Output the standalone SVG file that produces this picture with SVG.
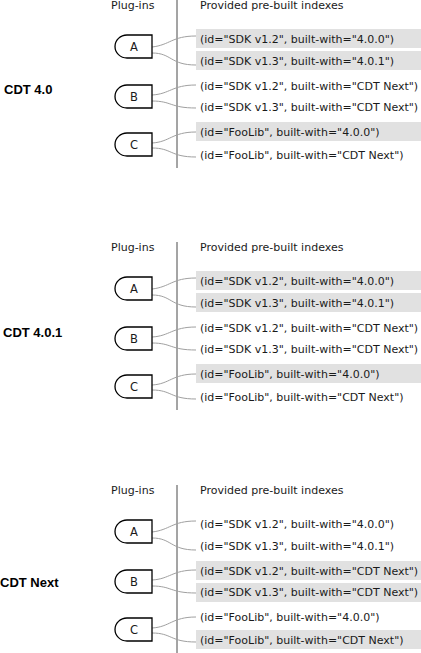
<svg xmlns="http://www.w3.org/2000/svg" xmlns:xlink="http://www.w3.org/1999/xlink" width="421" height="653" viewBox="0 0 421 653">
<style>
  .bg { fill: #ffffff; }
  .hdr { font-family: "DejaVu Sans", Verdana, sans-serif; font-size: 11px; fill: #1a1a1a; }
  .row { font-family: "DejaVu Sans", Verdana, sans-serif; font-size: 11px; fill: #1a1a1a; }
  .lbl { font-family: "Liberation Sans", Arial, sans-serif; font-size: 13px; font-weight: bold; fill: #000000; }
  .nodetxt { font-family: "DejaVu Sans", Verdana, sans-serif; font-size: 11.5px; fill: #1a1a1a; text-anchor: middle; }
  .hl { fill: #e1e1e1; }
  .divider { stroke: #4a4a4a; stroke-width: 1; fill: none; }
  .plug { fill: #ffffff; stroke: #000000; stroke-width: 1.3; }
  .conn { fill: none; stroke: #a0a0a0; stroke-width: 1; }
</style>
<defs>
  <path id="plugshape" d="M152,0 H127 A12,11.5 0 0 0 127,23 H152 Z"/>
  <g id="section">
    <text class="hdr" x="111" y="9">Plug-ins</text>
    <text class="hdr" x="200" y="9">Provided pre-built indexes</text>
    <line class="divider" x1="177" y1="0" x2="177" y2="168"/>
  </g>
</defs>
<rect class="bg" x="0" y="0" width="421" height="653"/>

<!-- ===== Section 1: CDT 4.0 ===== -->
<g id="section-cdt-4.0">
  <use xlink:href="#section" href="#section"/>
  <text class="lbl" x="4" y="94">CDT 4.0</text>
  <g id="s1-highlights">
    <rect class="hl" x="196" y="29" width="225" height="19"/>
    <rect class="hl" x="196" y="51" width="225" height="19"/>
    <rect class="hl" x="196" y="122" width="225" height="19"/>
  </g>
  <g id="s1-indexes">
    <text class="row" x="200" y="43">(id="SDK v1.2", built-with="4.0.0")</text>
    <text class="row" x="200" y="65">(id="SDK v1.3", built-with="4.0.1")</text>
    <text class="row" x="200" y="90">(id="SDK v1.2", built-with="CDT Next")</text>
    <text class="row" x="200" y="111">(id="SDK v1.3", built-with="CDT Next")</text>
    <text class="row" x="200" y="136">(id="FooLib", built-with="4.0.0")</text>
    <text class="row" x="200" y="159">(id="FooLib", built-with="CDT Next")</text>
  </g>
  <g id="s1-connectors">
    <path class="conn" d="M152,47 C170,45 172,36 196,36"/>
    <path class="conn" d="M152,53 C172,53 170,65 196,65"/>
    <path class="conn" d="M152,95 C170,94 172,85 196,85"/>
    <path class="conn" d="M152,101 C172,101 170,108 196,108"/>
    <path class="conn" d="M152,143 C170,142 172,132 196,132"/>
    <path class="conn" d="M152,148 C172,148 170,157 196,157"/>
  </g>
  <g id="s1-node-A"><use xlink:href="#plugshape" href="#plugshape" class="plug" y="35"/><text class="nodetxt" x="134" y="51">A</text></g>
  <g id="s1-node-B"><use xlink:href="#plugshape" href="#plugshape" class="plug" y="85"/><text class="nodetxt" x="134" y="101">B</text></g>
  <g id="s1-node-C"><use xlink:href="#plugshape" href="#plugshape" class="plug" y="133"/><text class="nodetxt" x="134" y="149">C</text></g>
</g>

<!-- ===== Section 2: CDT 4.0.1 ===== -->
<text class="lbl" x="3" y="337">CDT 4.0.1</text>
<g id="section-cdt-4.0.1" transform="translate(0,242)">
  <use xlink:href="#section" href="#section"/>
  <g id="s2-highlights">
    <rect class="hl" x="196" y="29" width="225" height="19"/>
    <rect class="hl" x="196" y="51" width="225" height="19"/>
    <rect class="hl" x="196" y="122" width="225" height="19"/>
  </g>
  <g id="s2-indexes">
    <text class="row" x="200" y="43">(id="SDK v1.2", built-with="4.0.0")</text>
    <text class="row" x="200" y="65">(id="SDK v1.3", built-with="4.0.1")</text>
    <text class="row" x="200" y="90">(id="SDK v1.2", built-with="CDT Next")</text>
    <text class="row" x="200" y="111">(id="SDK v1.3", built-with="CDT Next")</text>
    <text class="row" x="200" y="136">(id="FooLib", built-with="4.0.0")</text>
    <text class="row" x="200" y="159">(id="FooLib", built-with="CDT Next")</text>
  </g>
  <g id="s2-connectors">
    <path class="conn" d="M152,47 C170,45 172,36 196,36"/>
    <path class="conn" d="M152,53 C172,53 170,65 196,65"/>
    <path class="conn" d="M152,95 C170,94 172,85 196,85"/>
    <path class="conn" d="M152,101 C172,101 170,108 196,108"/>
    <path class="conn" d="M152,143 C170,142 172,132 196,132"/>
    <path class="conn" d="M152,148 C172,148 170,157 196,157"/>
  </g>
  <g id="s2-node-A"><use xlink:href="#plugshape" href="#plugshape" class="plug" y="35"/><text class="nodetxt" x="134" y="51">A</text></g>
  <g id="s2-node-B"><use xlink:href="#plugshape" href="#plugshape" class="plug" y="85"/><text class="nodetxt" x="134" y="101">B</text></g>
  <g id="s2-node-C"><use xlink:href="#plugshape" href="#plugshape" class="plug" y="133"/><text class="nodetxt" x="134" y="149">C</text></g>
</g>

<!-- ===== Section 3: CDT Next ===== -->
<text class="lbl" x="0" y="587">CDT Next</text>
<g id="section-cdt-next" transform="translate(0,485)">
  <use xlink:href="#section" href="#section"/>
  <g id="s3-highlights">
    <rect class="hl" x="196" y="76" width="225" height="19"/>
    <rect class="hl" x="196" y="98" width="225" height="19"/>
    <rect class="hl" x="196" y="145" width="225" height="19"/>
  </g>
  <g id="s3-indexes">
    <text class="row" x="200" y="43">(id="SDK v1.2", built-with="4.0.0")</text>
    <text class="row" x="200" y="65">(id="SDK v1.3", built-with="4.0.1")</text>
    <text class="row" x="200" y="90">(id="SDK v1.2", built-with="CDT Next")</text>
    <text class="row" x="200" y="111">(id="SDK v1.3", built-with="CDT Next")</text>
    <text class="row" x="200" y="136">(id="FooLib", built-with="4.0.0")</text>
    <text class="row" x="200" y="159">(id="FooLib", built-with="CDT Next")</text>
  </g>
  <g id="s3-connectors">
    <path class="conn" d="M152,47 C170,45 172,36 196,36"/>
    <path class="conn" d="M152,53 C172,53 170,65 196,65"/>
    <path class="conn" d="M152,95 C170,94 172,85 196,85"/>
    <path class="conn" d="M152,101 C172,101 170,108 196,108"/>
    <path class="conn" d="M152,143 C170,142 172,132 196,132"/>
    <path class="conn" d="M152,148 C172,148 170,157 196,157"/>
  </g>
  <g id="s3-node-A"><use xlink:href="#plugshape" href="#plugshape" class="plug" y="35"/><text class="nodetxt" x="134" y="51">A</text></g>
  <g id="s3-node-B"><use xlink:href="#plugshape" href="#plugshape" class="plug" y="85"/><text class="nodetxt" x="134" y="101">B</text></g>
  <g id="s3-node-C"><use xlink:href="#plugshape" href="#plugshape" class="plug" y="133"/><text class="nodetxt" x="134" y="149">C</text></g>
</g>
</svg>
